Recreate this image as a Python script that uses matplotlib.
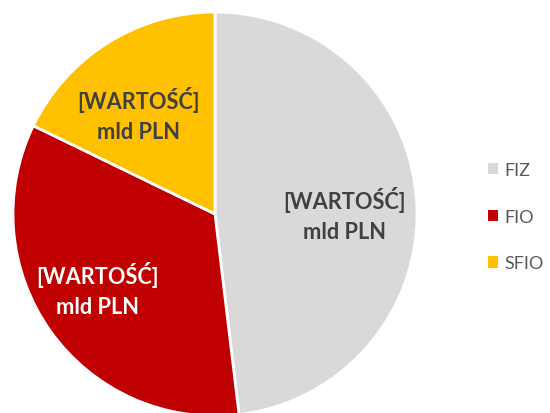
import matplotlib.pyplot as plt
from matplotlib.patches import Patch

categories = ['FIZ', 'FIO', 'SFIO']
values = [48.1, 34.1, 17.8]
colors = ['#D9D9D9', '#C00000', '#FFC000']
label_text = '[WARTOŚĆ]\nmld PLN'
label_colors = ['#404040', '#FFFFFF', '#404040']
# label anchor points (pie units)
label_pos = [(0.639, 0.0), (-0.582, -0.371), (-0.381, 0.495)]

plt.rcParams['font.family'] = ['Lato', 'DejaVu Sans']

fig = plt.figure(figsize=(5.5, 4.14), dpi=100)
W, H = 550, 414
cx, cy, r = 215, 215, 202
ax = fig.add_axes([(cx - r) / W, (H - cy - r) / H, 2 * r / W, 2 * r / H])

wedges, _ = ax.pie(values, colors=colors, startangle=90, counterclock=False,
                   wedgeprops=dict(edgecolor='white', linewidth=2))
ax.set_xlim(-1, 1)
ax.set_ylim(-1, 1)
ax.set_aspect('equal')

for (x, y), c in zip(label_pos, label_colors):
    ax.text(x, y, label_text, ha='center', va='center', color=c,
            fontsize=15.7, fontweight='bold', linespacing=1.5)

handles = [Patch(facecolor=c, edgecolor='none') for c in colors]
fig.legend(handles, categories, loc='center left', bbox_to_anchor=(0.857, 0.474),
           frameon=False, fontsize=13, labelcolor='#595959', handlelength=0.6,
           handleheight=0.6, handletextpad=0.35, labelspacing=1.7)

fig.savefig('out.png', dpi=100)
